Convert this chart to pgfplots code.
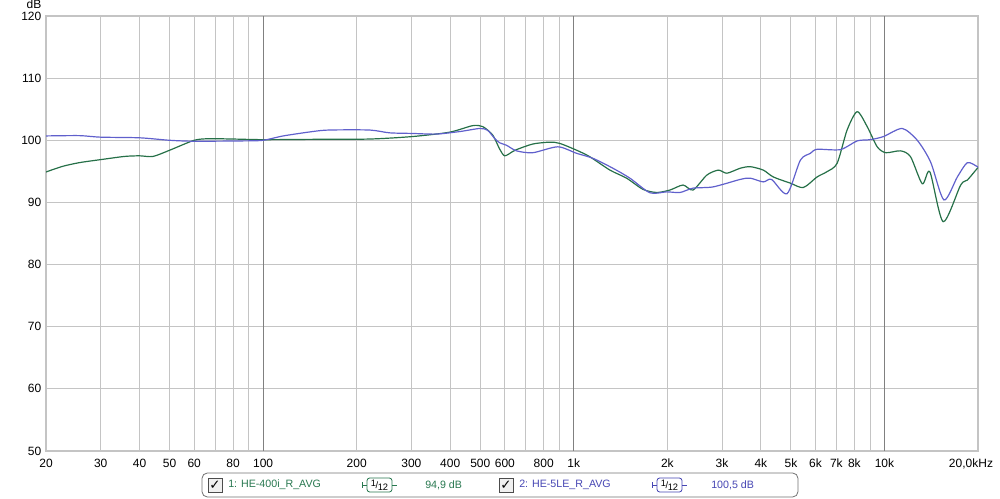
\documentclass[border=0pt]{standalone}
\usepackage{fontspec}
\setmainfont{Liberation Sans}
\newfontfamily\dejavu{DejaVu Sans}
\usepackage{pgfplots}
\pgfplotsset{compat=1.18}
\definecolor{gcol}{RGB}{38,112,72}
\definecolor{bcol}{RGB}{96,96,204}
\definecolor{gtext}{RGB}{40,120,80}
\definecolor{btext}{RGB}{70,70,180}
\definecolor{gridc}{RGB}{196,196,196}
\definecolor{gridd}{RGB}{128,128,128}
\definecolor{framec}{RGB}{196,196,196}
\begin{document}
\begin{tikzpicture}
\path[use as bounding box] (0,0) rectangle (750pt,-374.25pt);
\begin{axis}[
 at={(34.5pt,-12pt)}, anchor=north west,
 scale only axis, width=699pt, height=326.25pt,
 xmode=log, xmin=20, xmax=20000, ymin=50, ymax=120,
 xtick={20,30,40,50,60,80,100,200,300,400,500,600,800,1000,2000,3000,4000,5000,6000,7000,8000,10000,20000},
 xticklabels={20,30,40,50,60,80,100,200,300,400,500,600,800,1k,2k,3k,4k,5k,6k,7k,8k,10k,{\makebox[22.5pt][r]{20,0kHz}}},
 minor xtick={70,90,700,900,9000},
 extra x ticks={100,1000,10000}, extra x tick labels={},
 extra x tick style={grid=major, major grid style={gridd, line width=0.75pt}},
 ytick={50,60,...,120},
 grid=both,
 major grid style={gridc, line width=0.75pt},
 minor grid style={gridc, line width=0.75pt},
 major tick length=0pt, minor tick length=0pt,
 axis line style={framec, line width=2.2pt},
 tick label style={font=\fontsize{9}{10}\selectfont, /pgf/number format/assume math mode=true, text=black},
 xticklabel style={yshift=-2.5pt},
 yticklabel style={font=\fontsize{9}{10}\selectfont},
 clip=true,
]
\addplot[gcol, line width=0.9pt, smooth, tension=0.45] coordinates {
(20,94.9) (22.6,95.8) (25.6,96.4) (30.1,96.9) (35.8,97.4) (40,97.5) (44.2,97.4)
(50,98.4) (60,100.0) (67,100.25) (80,100.2) (100,100.1) (144,100.15) (220,100.2)
(302,100.6) (398,101.3) (472,102.35) (509,102.2) (548,100.85) (577,98.6) (599,97.5)
(636,98.2) (654,98.5) (738,99.4) (837,99.7) (901,99.5) (1021,98.4) (1126,97.35)
(1307,95.2) (1479,93.9) (1670,92.1) (1849,91.6) (2040,92.0) (2247,92.8) (2420,92.0)
(2680,94.4) (2920,95.2) (3110,94.7) (3432,95.5) (3698,95.75) (4072,95.2) (4386,94.1)
(4977,93.1) (5480,92.4) (6068,94.1) (6532,94.95) (7040,96.3) (7580,101.65) (8166,104.6)
(8796,102.2) (9475,98.95) (10100,98.0) (11262,98.3) (12130,97.35) (13234,93.0)
(14000,94.9) (15450,86.9) (17590,92.8) (18488,93.6) (19908,95.5) (20000,95.5)
};
\addplot[bcol, line width=0.9pt, smooth, tension=0.45] coordinates {
(20,100.7) (25.6,100.75) (30,100.5) (40,100.4) (50,100.0) (60,99.85) (86,99.9)
(100,100.0) (116,100.7) (144,101.4) (163,101.65) (220,101.65) (255,101.2) (302,101.1)
(361,101.0) (429,101.4) (498,101.9) (528,101.6) (556,100.3) (577,99.6) (607,99.2)
(654,98.3) (738,98.0) (888,98.95) (1021,97.9) (1152,97.1) (1336,95.5) (1516,93.9)
(1759,91.55) (1991,91.7) (2198,91.6) (2420,92.3) (2808,92.5) (3432,93.7) (3698,93.9)
(4072,93.3) (4330,93.7) (4857,91.4) (5360,96.8) (5773,97.9) (6068,98.55) (7214,98.5)
(8166,99.9) (9000,100.1) (9926,100.6) (11404,101.9) (12750,100.0) (14076,96.5)
(15538,90.4) (17162,94.1) (18488,96.4) (19908,95.75) (20000,95.7)
};
\end{axis}
\begin{scope}[x=0.75pt,y=-0.75pt]
\node[font=\fontsize{9}{10}\selectfont, anchor=south] at (34,13) {dB};
\draw[rounded corners=4pt, draw=gray!90!black, fill=white, line width=0.6pt] (202,473) rectangle (798,497);
% checkboxes
\draw[gray!60!black, fill=gray!12, line width=0.5pt] (208,478) rectangle (222,492);
\node[font=\dejavu\fontsize{10}{10}\selectfont\bfseries] at (215,485) {✓};
\draw[gray!60!black, fill=gray!12, line width=0.5pt] (499,478) rectangle (513,492);
\node[font=\dejavu\fontsize{10}{10}\selectfont\bfseries] at (506,485) {✓};
% series 1
\node[anchor=west, inner sep=0pt, text=gtext, font=\fontsize{8}{9.6}\selectfont] at (228,485) {1: HE-400i\_R\_AVG};
\draw[gtext, line width=0.6pt] (362,482) -- (362,488) (362,485) -- (367,485) (392,485) -- (397,485);
\node[draw=gtext, rounded corners=2pt, line width=0.6pt, minimum width=18.75pt, minimum height=10.5pt, inner sep=0pt, text=black] at (379.5,485) {\fontsize{7}{7}\selectfont\raisebox{1.6pt}{1}\kern-0.3pt/\kern-0.3pt\raisebox{-1.6pt}{12}};
\node[anchor=west, inner sep=0pt, text=gtext, font=\fontsize{8}{9.6}\selectfont] at (425,485) {94,9 dB};
% series 2
\node[anchor=west, inner sep=0pt, text=btext, font=\fontsize{8}{9.6}\selectfont] at (519,485) {2: HE-5LE\_R\_AVG};
\draw[btext, line width=0.6pt] (652,482) -- (652,488) (652,485) -- (657,485) (682,485) -- (687,485);
\node[draw=btext, rounded corners=2pt, line width=0.6pt, minimum width=18.75pt, minimum height=10.5pt, inner sep=0pt, text=black] at (669.5,485) {\fontsize{7}{7}\selectfont\raisebox{1.6pt}{1}\kern-0.3pt/\kern-0.3pt\raisebox{-1.6pt}{12}};
\node[anchor=west, inner sep=0pt, text=btext, font=\fontsize{8}{9.6}\selectfont] at (711,485) {100,5 dB};
\end{scope}
\end{tikzpicture}
\end{document}
